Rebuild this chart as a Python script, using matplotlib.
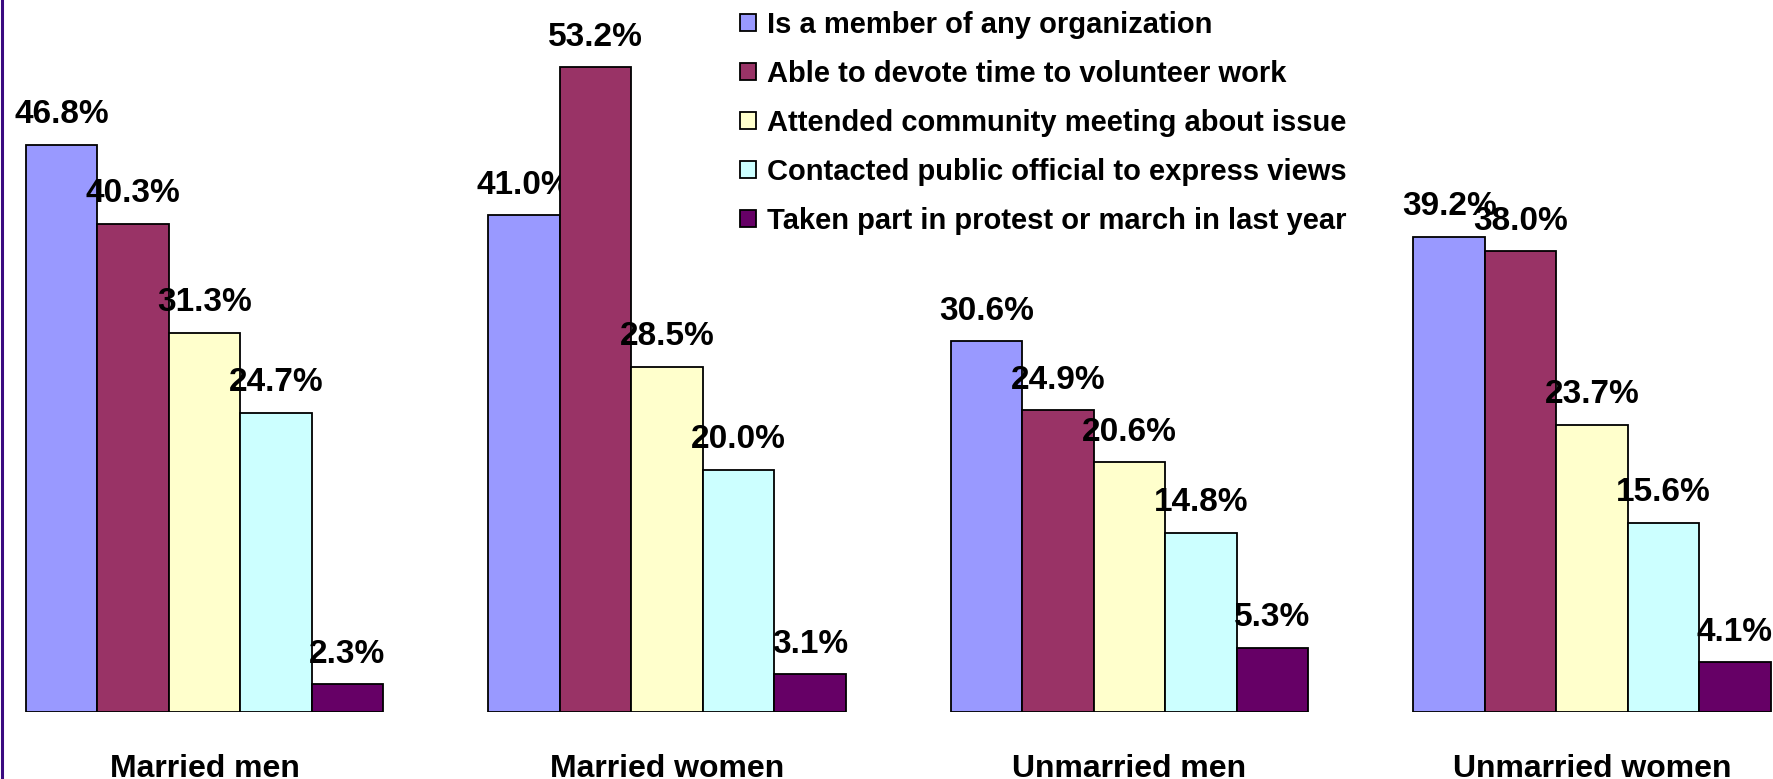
import matplotlib
matplotlib.use('Agg')
import numpy as np
import matplotlib.pyplot as plt
from matplotlib.lines import Line2D

GROUPS = ['Married men', 'Married women', 'Unmarried men', 'Unmarried women']
SERIES = ['Is a member of any organization',
          'Able to devote time to volunteer work',
          'Attended community meeting about issue',
          'Contacted public official to express views',
          'Taken part in protest or march in last year']
COLORS = ['#9999FF', '#993366', '#FFFFCC', '#CCFFFF', '#660066']

member    = [46.8, 41.0, 30.6, 39.2]
volunteer = [40.3, 53.2, 24.9, 38.0]
meeting   = [31.3, 28.5, 20.6, 23.7]
official  = [24.7, 20.0, 14.8, 15.6]
protest   = [2.3, 3.1, 5.3, 4.1]
VALUES = [member, volunteer, meeting, official, protest]

plt.rcParams['font.family'] = ['Liberation Sans', 'DejaVu Sans']
plt.rcParams['font.weight'] = 'bold'

W, H = 1773, 779
fig = plt.figure(figsize=(W / 100, H / 100), dpi=100)
ax = fig.add_axes([0, 67 / H, 1, 712 / H])

x = np.arange(len(GROUPS))
w = 0.1544
for i, (vals, name, col) in enumerate(zip(VALUES, SERIES, COLORS)):
    pos = x + (i - 2) * w
    ax.bar(pos, vals, w, color=col, edgecolor='black', linewidth=1.3,
           label=name, zorder=2 + 2 * i)
    for px, v in zip(pos, vals):
        ax.annotate(f'{v:.1f}%', (px, v), xytext=(0, 15.5),
                    textcoords='offset points', ha='center', va='baseline',
                    fontsize=24, fontweight='bold', zorder=3 + 2 * i)

for gx, g in zip(x, GROUPS):
    ax.annotate(g, (gx, 0), xytext=(0, -46.5), textcoords='offset points',
                ha='center', va='baseline', fontsize=23, fontweight='bold',
                annotation_clip=False)

ax.set_xlim(-0.4422, 3.3914)
ax.set_ylim(0, 58.75)
ax.axis('off')

leg = ax.legend(loc='upper left', bbox_to_anchor=(740 / W, 1 - 11 / H),
                bbox_transform=fig.transFigure, frameon=False,
                fontsize=21, handlelength=0.55, handleheight=0.55,
                handletextpad=0.36, labelspacing=0.72, borderpad=0,
                borderaxespad=0)
leg.set_zorder(20)

# thin purple rule down the left edge
fig.add_artist(Line2D([1.5 / W, 1.5 / W], [0, 1], color='#3a0a80',
                      linewidth=2.2, transform=fig.transFigure))

fig.savefig('out.png', dpi=100)
